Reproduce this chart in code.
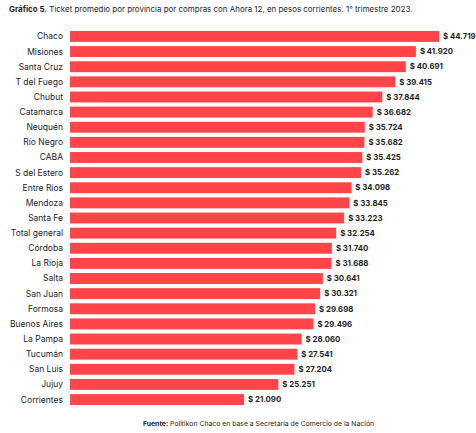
<!DOCTYPE html>
<html>
<head>
<meta charset="utf-8">
<script src="https://cdn.jsdelivr.net/npm/d3@7"></script>
<style>
  body { margin: 0; background: #fff; }
  text { font-family: Inter, "Noto Sans", sans-serif; fill: #1d1d1f; }
</style>
</head>
<body>
<script>
const provinces = [
  'Chaco', 'Misiones', 'Santa Cruz', 'T del Fuego', 'Chubut', 'Catamarca',
  'Neuquén', 'Río Negro', 'CABA', 'S del Estero', 'Entre Ríos', 'Mendoza',
  'Santa Fe', 'Total general', 'Córdoba', 'La Rioja', 'Salta', 'San Juan',
  'Formosa', 'Buenos Aires', 'La Pampa', 'Tucumán', 'San Luis', 'Jujuy',
  'Corrientes',
];
const ticket = [
  44719, 41920, 40691, 39415, 37844, 36682, 35724, 35682, 35425, 35262,
  34098, 33845, 33223, 32254, 31740, 31688, 30641, 30321, 29698, 29496,
  28060, 27541, 27204, 25251, 21090,
];
const titleBold = 'Gráfico 5.';
const titleRest = ' Ticket promedio por provincia por compras con Ahora 12, en pesos corrientes. 1° trimestre 2023.';
const sourceBold = 'Fuente:';
const sourceRest = ' Politikon Chaco en base a Secretaría de Comercio de la Nación';

const width = 476;
const height = 433;
const margin = { top: 31, left: 70, bottom: 28 };

const data = provinces.map((name, i) => ({ name, value: ticket[i] }));

const svg = d3
  .select('body')
  .append('svg')
  .attr('width', width)
  .attr('height', height);

// x: linear from zero, Chaco ends near x=439
const x = d3
  .scaleLinear()
  .domain([0, 44719])
  .range([margin.left, 439]);

const y = d3
  .scaleBand()
  .domain(provinces)
  .range([margin.top, margin.top + 14.96 * provinces.length])
  .paddingInner(0.28)
  .paddingOuter(0);

// dots as thousands separator
const fmt = d3.formatLocale({ decimal: ',', thousands: '.', grouping: [3], currency: ['$ ', ''] }).format('$,');

// title
const title = svg
  .append('text')
  .attr('x', 9)
  .attr('y', 12)
  .style('font-size', '7.95px');
title.append('tspan').style('font-weight', 700).text(titleBold);
title.append('tspan').text(titleRest);

// bars
svg
  .append('g')
  .selectAll('rect')
  .data(data)
  .join('rect')
  .attr('x', x(0))
  .attr('y', (d) => y(d.name))
  .attr('width', (d) => x(d.value) - x(0))
  .attr('height', y.bandwidth())
  .attr('fill', '#ff4549');

// category labels
svg
  .append('g')
  .selectAll('text')
  .data(data)
  .join('text')
  .attr('x', 63)
  .attr('y', (d) => y(d.name) + y.bandwidth() / 2)
  .attr('dy', '0.35em')
  .attr('text-anchor', 'end')
  .style('font-size', '8.5px')
  .text((d) => d.name);

// value labels
svg
  .append('g')
  .selectAll('text')
  .data(data)
  .join('text')
  .attr('x', (d) => x(d.value) + 4)
  .attr('y', (d) => y(d.name) + y.bandwidth() / 2)
  .attr('dy', '0.35em')
  .style('font-size', '7.8px')
  .style('font-weight', 700)
  .text((d) => fmt(d.value));

// source
const source = svg
  .append('text')
  .attr('x', 143)
  .attr('y', 426)
  .style('font-size', '6.85px');
source.append('tspan').style('font-weight', 700).text(sourceBold);
source.append('tspan').text(sourceRest);
</script>
</body>
</html>
